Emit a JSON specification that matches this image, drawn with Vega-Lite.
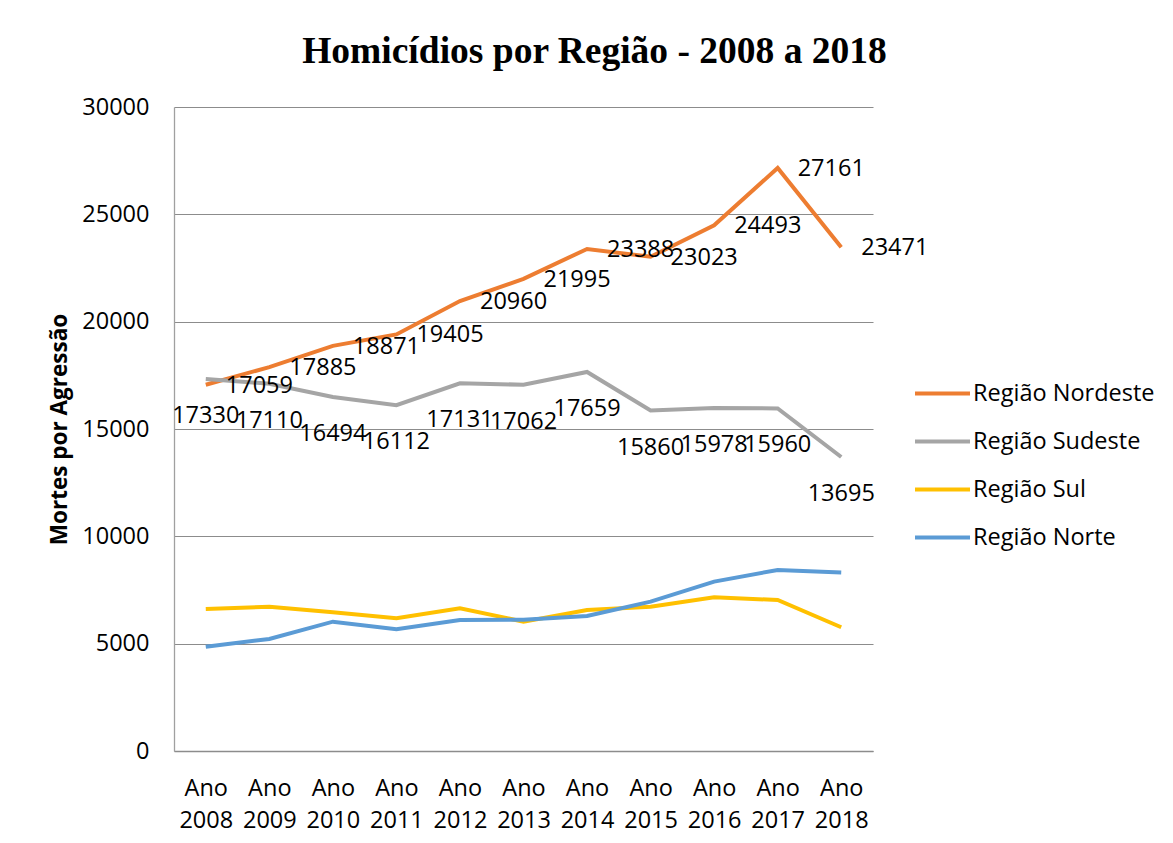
{
  "$schema": "https://vega.github.io/schema/vega-lite/v6.json",
  "width": 699,
  "height": 644,
  "autosize": {"type": "none"},
  "padding": {"left": 174, "top": 107, "right": 300, "bottom": 92},
  "background": "white",
  "title": {
    "text": "Homicídios por Região - 2008 a 2018",
    "font": "Liberation Serif",
    "fontSize": 37.5,
    "fontWeight": "bold",
    "color": "#000000",
    "anchor": "middle",
    "dx": 71,
    "offset": 25
  },
  "config": {
    "view": {"stroke": null},
    "axis": {"labelFont": "Open Sans", "labelColor": "#000000", "labelFontSize": 23.5}
  },
  "data": {
    "values": [
      {"ano": "Ano 2008", "regiao": "Região Nordeste", "mortes": 17059},
      {"ano": "Ano 2009", "regiao": "Região Nordeste", "mortes": 17885},
      {"ano": "Ano 2010", "regiao": "Região Nordeste", "mortes": 18871},
      {"ano": "Ano 2011", "regiao": "Região Nordeste", "mortes": 19405},
      {"ano": "Ano 2012", "regiao": "Região Nordeste", "mortes": 20960},
      {"ano": "Ano 2013", "regiao": "Região Nordeste", "mortes": 21995},
      {"ano": "Ano 2014", "regiao": "Região Nordeste", "mortes": 23388},
      {"ano": "Ano 2015", "regiao": "Região Nordeste", "mortes": 23023},
      {"ano": "Ano 2016", "regiao": "Região Nordeste", "mortes": 24493},
      {"ano": "Ano 2017", "regiao": "Região Nordeste", "mortes": 27161},
      {"ano": "Ano 2018", "regiao": "Região Nordeste", "mortes": 23471},
      {"ano": "Ano 2008", "regiao": "Região Sudeste", "mortes": 17330},
      {"ano": "Ano 2009", "regiao": "Região Sudeste", "mortes": 17110},
      {"ano": "Ano 2010", "regiao": "Região Sudeste", "mortes": 16494},
      {"ano": "Ano 2011", "regiao": "Região Sudeste", "mortes": 16112},
      {"ano": "Ano 2012", "regiao": "Região Sudeste", "mortes": 17131},
      {"ano": "Ano 2013", "regiao": "Região Sudeste", "mortes": 17062},
      {"ano": "Ano 2014", "regiao": "Região Sudeste", "mortes": 17659},
      {"ano": "Ano 2015", "regiao": "Região Sudeste", "mortes": 15860},
      {"ano": "Ano 2016", "regiao": "Região Sudeste", "mortes": 15978},
      {"ano": "Ano 2017", "regiao": "Região Sudeste", "mortes": 15960},
      {"ano": "Ano 2018", "regiao": "Região Sudeste", "mortes": 13695},
      {"ano": "Ano 2008", "regiao": "Região Sul", "mortes": 6617},
      {"ano": "Ano 2009", "regiao": "Região Sul", "mortes": 6724},
      {"ano": "Ano 2010", "regiao": "Região Sul", "mortes": 6463},
      {"ano": "Ano 2011", "regiao": "Região Sul", "mortes": 6184},
      {"ano": "Ano 2012", "regiao": "Região Sul", "mortes": 6650},
      {"ano": "Ano 2013", "regiao": "Região Sul", "mortes": 6025},
      {"ano": "Ano 2014", "regiao": "Região Sul", "mortes": 6570},
      {"ano": "Ano 2015", "regiao": "Região Sul", "mortes": 6724},
      {"ano": "Ano 2016", "regiao": "Região Sul", "mortes": 7162},
      {"ano": "Ano 2017", "regiao": "Região Sul", "mortes": 7036},
      {"ano": "Ano 2018", "regiao": "Região Sul", "mortes": 5764},
      {"ano": "Ano 2008", "regiao": "Região Norte", "mortes": 4860},
      {"ano": "Ano 2009", "regiao": "Região Norte", "mortes": 5219},
      {"ano": "Ano 2010", "regiao": "Região Norte", "mortes": 6025},
      {"ano": "Ano 2011", "regiao": "Região Norte", "mortes": 5669},
      {"ano": "Ano 2012", "regiao": "Região Norte", "mortes": 6105},
      {"ano": "Ano 2013", "regiao": "Região Norte", "mortes": 6110},
      {"ano": "Ano 2014", "regiao": "Região Norte", "mortes": 6290},
      {"ano": "Ano 2015", "regiao": "Região Norte", "mortes": 6957},
      {"ano": "Ano 2016", "regiao": "Região Norte", "mortes": 7890},
      {"ano": "Ano 2017", "regiao": "Região Norte", "mortes": 8434},
      {"ano": "Ano 2018", "regiao": "Região Norte", "mortes": 8310}
    ]
  },
  "encoding": {
    "x": {
      "field": "ano",
      "type": "ordinal",
      "sort": null,
      "scale": {"type": "point", "padding": 0.5},
      "axis": {
        "title": null,
        "labelAngle": 0,
        "labelExpr": "split(datum.label, ' ')",
        "labelLineHeight": 32,
        "labelPadding": 25,
        "ticks": false,
        "domainColor": "#8c8c8c",
        "domainWidth": 1.3,
        "grid": false
      }
    },
    "y": {
      "field": "mortes",
      "type": "quantitative",
      "scale": {"domain": [0, 30000], "nice": false},
      "axis": {
        "title": "Mortes por Agressão",
        "titleFont": "Open Sans",
        "titleFontSize": 22.5,
        "titleFontWeight": "bold",
        "titleColor": "#000000",
        "titlePadding": 10,
        "values": [0, 5000, 10000, 15000, 20000, 25000, 30000],
        "format": "d",
        "ticks": false,
        "labelPadding": 25,
        "domainColor": "#a0a0a0",
        "domainWidth": 1.3,
        "grid": true,
        "gridColor": "#8c8c8c",
        "gridWidth": 1.1
      }
    }
  },
  "layer": [
    {
      "mark": {"type": "line", "strokeWidth": 4},
      "encoding": {
        "color": {
          "field": "regiao",
          "type": "nominal",
          "scale": {
            "domain": ["Região Nordeste", "Região Sudeste", "Região Sul", "Região Norte"],
            "range": ["#ED7D31", "#A5A5A5", "#FFC000", "#5B9BD5"]
          },
          "legend": {
            "title": null,
            "orient": "none",
            "legendX": 739,
            "legendY": 257,
            "padding": 0,
            "symbolType": "stroke",
            "symbolStrokeWidth": 4,
            "symbolSize": 3025,
            "labelFont": "Open Sans",
            "labelFontSize": 23.5,
            "labelColor": "#000000",
            "labelOffset": 1,
            "labelLimit": 0,
            "rowPadding": 7
          }
        }
      }
    },
    {
      "transform": [{"filter": "datum.regiao === 'Região Nordeste'"}],
      "mark": {"type": "text", "align": "left", "baseline": "middle", "dx": 20, "dy": 1, "font": "Open Sans", "fontSize": 23.5, "color": "#000000"},
      "encoding": {"text": {"field": "mortes", "type": "quantitative", "format": "d"}}
    },
    {
      "transform": [{"filter": "datum.regiao === 'Região Sudeste'"}],
      "mark": {"type": "text", "align": "center", "baseline": "middle", "dy": 37, "font": "Open Sans", "fontSize": 23.5, "color": "#000000"},
      "encoding": {"text": {"field": "mortes", "type": "quantitative", "format": "d"}}
    }
  ]
}
